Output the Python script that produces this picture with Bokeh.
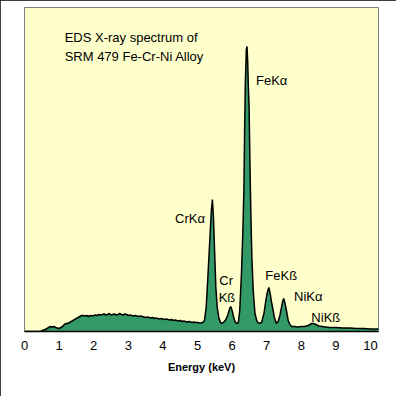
from bokeh.plotting import figure
from bokeh.models import Range1d, FixedTicker, BoxAnnotation, InlineStyleSheet
from bokeh.core.properties import value
from bokeh.embed import file_html
from bokeh.resources import INLINE

# Spectrum (energy in keV, counts in arbitrary units)
energy = [0.00, 0.45, 0.50, 0.55, 0.60, 0.65, 0.70, 0.75, 0.80, 0.85, 0.90, 0.95,
          1.00, 1.05, 1.10, 1.15, 1.20, 1.25, 1.30, 1.35, 1.40, 1.45, 1.50, 1.55,
          1.60, 1.65, 1.70, 1.75, 1.80, 1.85, 1.90, 1.95, 2.00, 2.05, 2.10, 2.15,
          2.20, 2.25, 2.30, 2.35, 2.40, 2.45, 2.50, 2.55, 2.60, 2.65, 2.70, 2.75,
          2.80, 2.85, 2.90, 2.95, 3.00, 3.05, 3.10, 3.15, 3.20, 3.25, 3.30, 3.35,
          3.40, 3.45, 3.50, 3.55, 3.60, 3.65, 3.70, 3.75, 3.80, 3.85, 3.90, 3.95,
          4.00, 4.05, 4.10, 4.15, 4.20, 4.25, 4.30, 4.35, 4.40, 4.45, 4.50, 4.55,
          4.60, 4.65, 4.70, 4.75, 4.80, 4.85, 4.90, 4.95, 5.00, 5.05, 5.10, 5.15,
          5.20, 5.25, 5.30, 5.35, 5.40, 5.43, 5.46, 5.50, 5.53, 5.57, 5.62, 5.68,
          5.75, 5.82, 5.88, 5.93, 5.96, 6.00, 6.04, 6.08, 6.13, 6.18, 6.22, 6.27,
          6.31, 6.34, 6.36, 6.38, 6.41, 6.43, 6.45, 6.47, 6.49, 6.51, 6.54, 6.57,
          6.61, 6.66, 6.72, 6.78, 6.85, 6.92, 6.97, 7.01, 7.06, 7.10, 7.13, 7.18,
          7.22, 7.28, 7.33, 7.38, 7.42, 7.46, 7.49, 7.53, 7.57, 7.62, 7.67, 7.72,
          7.80, 7.90, 8.00, 8.10, 8.20, 8.25, 8.30, 8.35, 8.42, 8.50, 8.60, 8.70,
          8.80, 9.00, 9.20, 9.40, 9.60, 9.80, 10.00, 10.23]
counts = [0, 0, 0.5, 1.5, 2, 3, 4, 5, 4.5, 5, 4, 3.5,
          3, 4, 5, 7, 8, 8, 9, 10, 11, 12, 13, 14,
          15, 16, 16, 15.5, 16, 15, 16, 15.5, 16, 16.5, 16, 17,
          16.5, 17, 17.5, 16.5, 17, 18, 16.5, 17, 17.5, 16.5, 17, 18,
          17, 16.5, 17.5, 17, 16, 16.5, 16, 15.5, 16, 15.5, 15, 15.5,
          15, 14.5, 14, 14.5, 14, 13.5, 14, 13, 13.5, 13, 12.5, 13,
          12.5, 12, 12.5, 12, 11.5, 12, 11, 11.5, 11, 10.5, 11, 10,
          10.5, 10, 9.5, 10, 9.5, 9, 9.5, 9, 9, 8.5, 8.5, 9,
          11, 24, 55, 88, 121, 132, 115, 74, 44, 24, 13, 8,
          9, 12, 17, 23, 25, 21, 15, 10, 8, 9, 21, 58,
          100, 141, 198, 245, 282, 285, 270, 244, 225, 180, 120, 75,
          41, 18, 10, 8, 9, 18, 30, 38, 44, 38, 31, 22,
          14, 8, 10, 16, 23, 30, 33, 28, 21, 11, 7, 5,
          5, 4.5, 5, 5, 6, 7, 8, 8, 7, 5.5, 5, 4.5,
          4, 4, 3.5, 3.5, 3, 3, 2.5, 2.5]

x_ticks = [0, 1, 2, 3, 4, 5, 6, 7, 8, 9, 10]

peak_labels = ["FeKα", "CrKα", "Cr", "Kß", "FeKß", "NiKα", "NiKß"]
peak_label_x = [6.69, 4.35, 5.63, 5.61, 6.96, 7.79, 8.29]
peak_label_y = [251, 113, 51, 34, 56, 35, 14]

title_lines = ["EDS X-ray spectrum of", "SRM 479 Fe-Cr-Ni Alloy"]
title_x = [1.16, 1.16]
title_y = [294, 275]

FONT = "Liberation Sans"

p = figure(width=396, height=396, output_backend="svg", toolbar_location=None,
           x_range=Range1d(0, 10.23), y_range=Range1d(0, 324),
           y_axis_location=None, min_border_left=24, min_border_right=18,
           min_border_top=7, min_border_bottom=65)
p.stylesheets = [InlineStyleSheet(css=":host { outline: 1px solid black; outline-offset: -1px; }")]
p.background_fill_color = "#FFFFCC"
p.border_fill_color = "white"
p.outline_line_color = "#808080"
p.outline_line_width = 1
p.grid.visible = False

p.varea(x=energy, y1=0, y2=counts, fill_color="#339966")
p.line(x=energy, y=counts, line_color="black", line_width=1.5)

p.text(x=peak_label_x, y=peak_label_y, text=peak_labels, text_font=value(FONT),
       text_font_size="13px", text_color="black", text_baseline="alphabetic")
p.text(x=title_x, y=title_y, text=title_lines, text_font=value(FONT),
       text_font_size="13px", text_color="black", text_baseline="alphabetic")

# outer frame of the whole picture
p.add_layout(BoxAnnotation(left=1, right=395, top=1, bottom=395,
                           left_units="canvas", right_units="canvas",
                           top_units="canvas", bottom_units="canvas",
                           fill_alpha=0, line_color="black", line_width=2,
                           line_alpha=1, level="overlay"))

ax = p.xaxis[0]
ax.ticker = FixedTicker(ticks=x_ticks)
ax.axis_line_color = "black"
ax.axis_line_width = 1.5
ax.major_tick_out = 0
ax.major_tick_in = 0
ax.minor_tick_out = 0
ax.minor_tick_in = 0
ax.major_label_standoff = 9
ax.major_label_text_font = FONT
ax.major_label_text_font_size = "13px"
ax.major_label_text_color = "black"
ax.axis_label = "Energy (keV)"
ax.axis_label_text_font = FONT
ax.axis_label_text_font_size = "11px"
ax.axis_label_text_font_style = "bold"
ax.axis_label_text_color = "black"
ax.axis_label_standoff = 8

open("out.html", "w").write(file_html(p, INLINE))
